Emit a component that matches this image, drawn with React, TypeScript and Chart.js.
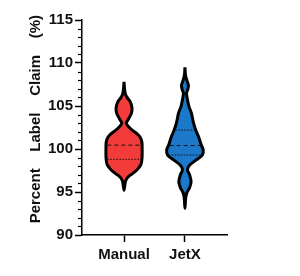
import React, { useEffect, useRef } from 'react';
import { Chart, registerables } from 'chart.js';

Chart.register(...registerables);

// ---- data ----
const CATEGORIES = ['Manual', 'JetX'];
const Y_MIN = 90;
const Y_MAX = 115;
const Y_STEP = 5;

// violin profiles: value (% label claim) and relative density (1 = widest)
const MANUAL_VALUES = [107.8, 107.0, 106.4, 106.0, 105.5, 104.8, 104.2, 103.7, 103.3, 103.0, 102.6, 102.2, 101.8, 101.4, 100.8, 100.0, 99.3, 98.7, 98.2, 97.9, 97.5, 97.2, 96.9, 96.6, 96.2, 95.2];
const MANUAL_DENSITY = [0, 0.03, 0.075, 0.165, 0.335, 0.435, 0.41, 0.3, 0.19, 0.125, 0.25, 0.45, 0.7, 0.875, 0.975, 0.99, 0.99, 0.975, 0.925, 0.835, 0.675, 0.5, 0.3, 0.165, 0.075, 0];
const MANUAL_MEDIAN = 100.45;
const MANUAL_QUARTILES = [98.8];

const JETX_VALUES = [109.5, 108.6, 108.0, 107.4, 106.9, 106.5, 105.7, 104.9, 104.2, 103.1, 102.2, 101.4, 100.5, 99.9, 99.3, 98.7, 98.1, 97.6, 97.0, 96.2, 95.5, 94.9, 94.3, 93.1];
const JETX_DENSITY = [0, 0.03, 0.1, 0.19, 0.15, 0.085, 0.14, 0.225, 0.35, 0.46, 0.59, 0.75, 0.885, 1.0, 0.95, 0.6, 0.25, 0.14, 0.25, 0.335, 0.25, 0.1, 0.04, 0];
const JETX_MEDIAN = 100.4;
const JETX_QUARTILES = [99.3, 102.2];

const COLORS = ['#F33B3B', '#1C78C9'];

// ---- helpers ----
const HALF_WIDTH = 0.3; // category units for density 1

function violinPoints(vals: number[], dens: number[], c: number) {
  const pts: { x: number; y: number }[] = [];
  for (let i = 0; i < vals.length; i++) pts.push({ x: c + dens[i] * HALF_WIDTH, y: vals[i] });
  for (let i = vals.length - 2; i >= 0; i--) pts.push({ x: c - dens[i] * HALF_WIDTH, y: vals[i] });
  return pts;
}

function densityAt(vals: number[], dens: number[], v: number) {
  for (let i = 0; i < vals.length - 1; i++) {
    const a = vals[i], b = vals[i + 1];
    if ((v <= a && v >= b) || (v >= a && v <= b)) {
      const t = (v - a) / (b - a);
      return dens[i] + t * (dens[i + 1] - dens[i]);
    }
  }
  return 0;
}

function statLine(vals: number[], dens: number[], c: number, v: number, dash: number[]) {
  const w = Math.max(0, densityAt(vals, dens, v) * HALF_WIDTH - 0.02);
  return {
    type: 'line' as const,
    data: [{ x: c - w, y: v }, { x: c + w, y: v }],
    borderColor: '#111',
    borderWidth: 1,
    borderDash: dash,
    pointRadius: 0,
    fill: false,
    tension: 0,
    order: 1,
  };
}

const minorTicks = {
  id: 'minorTicks',
  afterDraw(chart: any) {
    const y = chart.scales.y;
    const left = chart.chartArea.left;
    const ctx = chart.ctx;
    ctx.save();
    ctx.strokeStyle = '#000';
    ctx.lineWidth = 1.2;
    for (let v = Y_MIN; v <= Y_MAX; v += 1) {
      if (v % Y_STEP === 0) continue;
      const p = Math.round(y.getPixelForValue(v)) + 0.5;
      ctx.beginPath();
      ctx.moveTo(left - 4, p);
      ctx.lineTo(left, p);
      ctx.stroke();
    }
    ctx.restore();
  },
};

export default function App() {
  const ref = useRef<HTMLCanvasElement>(null);

  useEffect(() => {
    document.body.style.margin = '0';
    const profiles = [
      { vals: MANUAL_VALUES, dens: MANUAL_DENSITY, median: MANUAL_MEDIAN, quartiles: MANUAL_QUARTILES },
      { vals: JETX_VALUES, dens: JETX_DENSITY, median: JETX_MEDIAN, quartiles: JETX_QUARTILES },
    ];
    const datasets: any[] = [];
    profiles.forEach((p, c) => {
      datasets.push({
        type: 'line',
        label: CATEGORIES[c],
        data: violinPoints(p.vals, p.dens, c),
        borderColor: '#000',
        borderWidth: 3,
        backgroundColor: COLORS[c],
        fill: 'shape',
        tension: 0.35,
        pointRadius: 0,
        order: 2,
      });
      datasets.push(statLine(p.vals, p.dens, c, p.median, [4, 3]));
      p.quartiles.forEach((q) => datasets.push(statLine(p.vals, p.dens, c, q, [1.5, 1.5])));
    });

    const font = "'Liberation Sans', Arial, sans-serif";
    const chart = new Chart(ref.current!, {
      type: 'line',
      data: { datasets },
      plugins: [minorTicks],
      options: {
        animation: false,
        responsive: true,
        maintainAspectRatio: false,
        layout: { padding: { top: 20, right: 73, left: 0, bottom: 0 } },
        plugins: { legend: { display: false }, tooltip: { enabled: false } },
        scales: {
          x: {
            type: 'linear',
            min: -0.69,
            max: 1.69,
            afterBuildTicks: (s: any) => {
              s.ticks = CATEGORIES.map((_, i) => ({ value: i }));
            },
            afterFit: (s: any) => {
              s.height = 41;
            },
            ticks: {
              callback: (v: any) => CATEGORIES[v] ?? '',
              color: '#111',
              font: { family: font, size: 15, weight: 'bold' },
              padding: 4,
              maxRotation: 0,
              autoSkip: false,
            },
            grid: { drawOnChartArea: false, drawTicks: true, tickLength: 7, tickColor: '#000', tickWidth: 1.5 },
            border: { display: true, color: '#000', width: 1.5 },
          },
          y: {
            type: 'linear',
            min: Y_MIN,
            max: Y_MAX,
            afterFit: (s: any) => {
              s.width = 82;
            },
            ticks: {
              stepSize: Y_STEP,
              color: '#111',
              font: { family: font, size: 15, weight: 'bold' },
              padding: 2,
            },
            grid: { drawOnChartArea: false, drawTicks: true, tickLength: 7, tickColor: '#000', tickWidth: 1.5 },
            border: { display: true, color: '#000', width: 1.5 },
            title: {
              display: true,
              text: '    Percent    Label    Claim    (%)',
              color: '#111',
              font: { family: font, size: 15, weight: 'bold' },
              padding: { top: 27, bottom: 0 },
            },
          },
        },
      } as any,
    });
    return () => chart.destroy();
  }, []);

  return (
    <div style={{ position: 'absolute', left: 0, top: 0, width: 300, height: 276 }}>
      <canvas ref={ref} />
    </div>
  );
}
